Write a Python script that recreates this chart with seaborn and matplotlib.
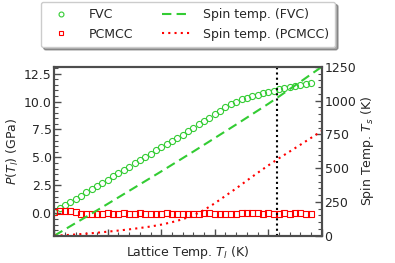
"""
Pressure and spin temperature versus lattice temperature,
FVC vs PCMCC, with the Curie point marked.
"""

import numpy as np
import pandas as pd
import seaborn as sns
import matplotlib
matplotlib.use('Agg')
import matplotlib.pyplot as plt
from matplotlib.ticker import MultipleLocator

###
#Data

#Lattice temperatures of the pressure points (K)
T_PRESS = [0, 25, 50, 75, 100, 125, 150, 175, 200, 225, 250, 275, 300,
           325, 350, 375, 400, 425, 450, 475, 500, 525, 550, 575, 600,
           625, 650, 675, 700, 725, 750, 775, 800, 825, 850, 875, 900,
           925, 950, 975, 1000, 1025, 1050, 1075, 1100, 1125, 1150, 1175,
           1200]

#Pressure, FVC (GPa)
P_FVC = [0.12, 0.45, 0.75, 1.03, 1.30, 1.58, 1.87, 2.16, 2.45, 2.73, 3.02,
         3.31, 3.60, 3.89, 4.18, 4.47, 4.80, 5.06, 5.34, 5.62, 5.90, 6.18,
         6.47, 6.76, 7.05, 7.35, 7.65, 7.95, 8.25, 8.56, 8.87, 9.18, 9.50,
         9.78, 10.00, 10.20, 10.35, 10.50, 10.62, 10.75, 10.87, 10.98,
         11.10, 11.20, 11.30, 11.40, 11.50, 11.60, 11.70]

#Pressure, PCMCC (GPa)
P_PCMCC = [0.10, 0.20, 0.22, 0.22, 0.15, -0.05, -0.05, -0.05, -0.03, -0.05,
           0.00, -0.02, -0.05, 0.00, -0.05, -0.03, 0.02, -0.05, -0.02,
           -0.08, -0.05, 0.02, -0.05, -0.02, -0.03, -0.05, -0.02, -0.05,
           0.02, 0.00, -0.03, -0.05, -0.02, -0.05, -0.03, 0.05, 0.05, 0.02,
           0.02, -0.05, 0.00, -0.03, -0.03, 0.00, -0.02, 0.00, 0.00, -0.03,
           -0.05]

#Lattice temperatures of the spin temperature curves (K)
T_SPIN = [0, 50, 100, 150, 200, 250, 300, 350, 400, 450, 500, 550, 600,
          650, 700, 750, 800, 850, 900, 950, 1000, 1050, 1100, 1150, 1200,
          1250]

#Spin temperature, FVC (K)
TS_FVC = [0, 47, 94, 141, 188, 236, 284, 332, 380, 428, 476, 525, 574, 623,
          673, 723, 773, 823, 874, 925, 976, 1030, 1085, 1139, 1195, 1250]

#Spin temperature, PCMCC (K)
TS_PCMCC = [0, 4, 9, 15, 22, 30, 38, 47, 57, 68, 82, 100, 122, 150, 190,
            240, 295, 350, 408, 465, 520, 573, 623, 673, 724, 775]

#Curie temperature (K)
T_CURIE = 1043

GREEN = '#33cc33'
RED = '#ff0000'
SPINE = '#4d4d4d'

###
#Plot

sns.set_theme(style='white')
plt.rcParams['font.family'] = ['DejaVu Sans']
plt.rcParams['mathtext.fontset'] = 'dejavusans'

fig = plt.figure(figsize=(3.95, 2.63), dpi=100)
ax = fig.add_axes([0.1375, 0.1038, 0.677, 0.642])
ax2 = ax.twinx()

press = pd.DataFrame({'T': T_PRESS, 'fvc': P_FVC, 'pcmcc': P_PCMCC})
spin = pd.DataFrame({'T': T_SPIN, 'fvc': TS_FVC, 'pcmcc': TS_PCMCC})

sns.lineplot(data=press, x='T', y='fvc', ax=ax, linestyle='', marker='o',
             markersize=4.4, markerfacecolor='none', markeredgecolor=GREEN,
             markeredgewidth=0.8, label='FVC', legend=False)
sns.lineplot(data=press, x='T', y='pcmcc', ax=ax, linestyle='', marker='s',
             markersize=4.4, markerfacecolor='none', markeredgecolor=RED,
             markeredgewidth=0.8, label='PCMCC', legend=False)
sns.lineplot(data=spin, x='T', y='fvc', ax=ax2, color=GREEN, linewidth=1.5,
             dashes=(4.5, 2.5), label='Spin temp. (FVC)', legend=False)
sns.lineplot(data=spin, x='T', y='pcmcc', ax=ax2, color=RED, linewidth=1.5,
             linestyle=(0, (1, 2)), label='Spin temp. (PCMCC)', legend=False)
ax.axvline(T_CURIE, color='black', linestyle=(0, (1, 1.5)), linewidth=1.5)

ax.set_xlim(0, 1250)
ax.set_ylim(-2.0, 13.1)
ax2.set_ylim(0, 1250)

ax.xaxis.set_major_locator(MultipleLocator(250))
ax.xaxis.set_minor_locator(MultipleLocator(50))
ax.yaxis.set_major_locator(MultipleLocator(2.5))
ax.yaxis.set_minor_locator(MultipleLocator(0.5))
ax2.yaxis.set_major_locator(MultipleLocator(250))
ax2.yaxis.set_minor_locator(MultipleLocator(50))
ax.set_xticklabels([])
ax.yaxis.set_major_formatter(matplotlib.ticker.FormatStrFormatter('%.1f'))

for a in (ax, ax2):
    a.tick_params(which='both', direction='in', color=SPINE, labelsize=9,
                  pad=2)
    a.tick_params(which='major', length=5, width=1)
    a.tick_params(which='minor', length=3, width=0.8)
    for s in a.spines.values():
        s.set_color(SPINE)
        s.set_linewidth(1.5)
ax.tick_params(axis='x', which='both', bottom=True, top=False)
ax.tick_params(axis='y', which='both', left=True, right=False)
ax2.tick_params(axis='y', which='both', right=True, left=False)

ax.set_xlabel('Lattice Temp. $T_l$ (K)', fontsize=9, labelpad=4)
ax.set_ylabel('$P(T_l)$ (GPa)', fontsize=9, labelpad=2)
ax2.set_ylabel('Spin Temp. $T_s$ (K)', fontsize=9, labelpad=2)

h1, l1 = ax.get_legend_handles_labels()
h2, l2 = ax2.get_legend_handles_labels()
leg = ax.legend(h1 + h2, l1 + l2, ncol=2, loc='lower center',
                bbox_to_anchor=(0.5, 1.08), fontsize=9, frameon=True,
                fancybox=True, shadow=True, handlelength=2.3,
                handletextpad=1.0, columnspacing=2.3, borderpad=0.5,
                labelspacing=0.55, markerscale=0.8)
leg.get_frame().set_edgecolor('#cccccc')

fig.savefig('out.png', dpi=100)
